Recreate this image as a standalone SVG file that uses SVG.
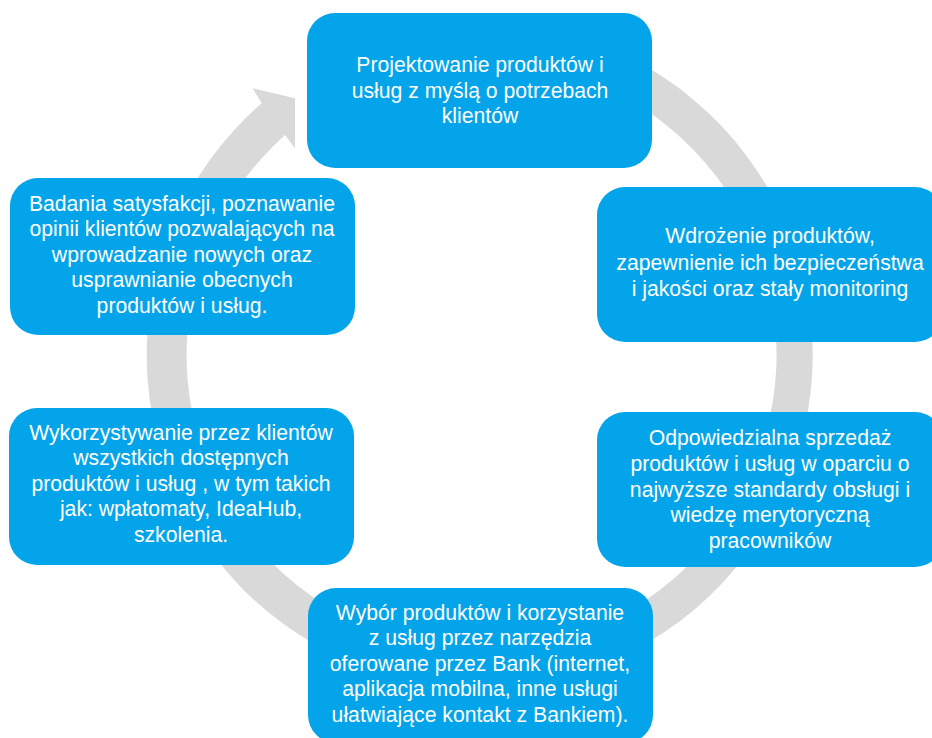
<svg xmlns="http://www.w3.org/2000/svg" width="932" height="738" viewBox="0 0 932 738">
  <style>
    .box { fill: #03a4e9; }
    .lbl { font-family: "Liberation Sans", Arial, sans-serif; font-size: 21.2px; fill: #ffffff; text-anchor: middle; }
  </style>
  <rect width="932" height="738" fill="#ffffff"/>

  <!-- circular arrow running clockwise behind the steps -->
  <g id="connectors">
    <path fill="#d9d9d9" d="M 480 22 A 333 333 0 1 1 261.7 103.3 L 252.7 88.3 L 295 98.3 L 295 148.3 L 285 135 A 295 295 0 1 0 480 60 Z"/>
  </g>

  <g id="step-design">
    <rect class="box" x="307" y="13" width="345" height="155" rx="28"/>
    <text class="lbl" x="480" y="72">Projektowanie produktów i</text>
    <text class="lbl" x="480" y="97.5">usług z myślą o potrzebach</text>
    <text class="lbl" x="480" y="123">klientów</text>
  </g>

  <g id="step-deploy">
    <rect class="box" x="597" y="187" width="346" height="155" rx="28"/>
    <text class="lbl" x="770" y="243">Wdrożenie produktów,</text>
    <text class="lbl" x="770" y="269.5">zapewnienie ich bezpieczeństwa</text>
    <text class="lbl" x="770" y="296">i jakości oraz stały monitoring</text>
  </g>

  <g id="step-sales">
    <rect class="box" x="597" y="412" width="346" height="155" rx="28"/>
    <text class="lbl" x="770" y="445">Odpowiedzialna sprzedaż</text>
    <text class="lbl" x="770" y="471">produktów i usług w oparciu o</text>
    <text class="lbl" x="770" y="496.5">najwyższe standardy obsługi i</text>
    <text class="lbl" x="770" y="522">wiedzę merytoryczną</text>
    <text class="lbl" x="770" y="547.5">pracowników</text>
  </g>

  <g id="step-choice">
    <rect class="box" x="308" y="588" width="345" height="155" rx="28"/>
    <text class="lbl" x="480" y="619.5">Wybór produktów i korzystanie</text>
    <text class="lbl" x="480" y="645">z usług przez narzędzia</text>
    <text class="lbl" x="480" y="670.5">oferowane przez Bank (internet,</text>
    <text class="lbl" x="480" y="696">aplikacja mobilna, inne usługi</text>
    <text class="lbl" x="480" y="721.5">ułatwiające kontakt z Bankiem).</text>
  </g>

  <g id="step-usage">
    <rect class="box" x="9" y="408" width="345" height="157" rx="28"/>
    <text class="lbl" x="181" y="439.5">Wykorzystywanie przez klientów</text>
    <text class="lbl" x="181" y="465">wszystkich dostępnych</text>
    <text class="lbl" x="181" y="490.5">produktów i usług , w tym takich</text>
    <text class="lbl" x="181" y="516">jak: wpłatomaty, IdeaHub,</text>
    <text class="lbl" x="181" y="541.5">szkolenia.</text>
  </g>

  <g id="step-feedback">
    <rect class="box" x="10" y="178" width="345" height="157" rx="28"/>
    <text class="lbl" x="182" y="210.5">Badania satysfakcji, poznawanie</text>
    <text class="lbl" x="182" y="236">opinii klientów pozwalających na</text>
    <text class="lbl" x="182" y="261.5">wprowadzanie nowych oraz</text>
    <text class="lbl" x="182" y="287">usprawnianie obecnych</text>
    <text class="lbl" x="182" y="312.5">produktów i usług.</text>
  </g>
</svg>
